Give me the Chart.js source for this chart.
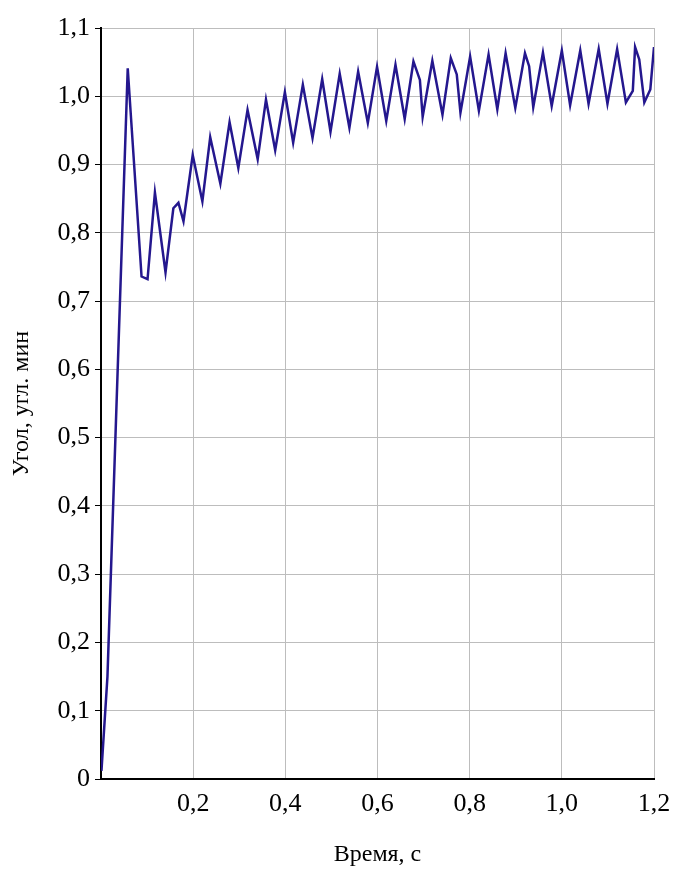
<!DOCTYPE html>
<html>
<head>
<meta charset="utf-8">
<script src="https://cdn.jsdelivr.net/npm/chart.js@4/dist/chart.umd.min.js"></script>
<style>
    html, body { margin: 0; padding: 0; background: #fff; }
    #wrap { width: 673px; height: 870px; }
</style>
</head>
<body>
<div id="wrap"><canvas id="angle"></canvas></div>
<script>
// time, s
const timeS = [
    0.001, 0.014, 0.058, 0.088, 0.101, 0.117, 0.140, 0.157, 0.168, 0.179,
    0.199, 0.220, 0.237, 0.259, 0.279, 0.298, 0.318, 0.340, 0.358, 0.378,
    0.399, 0.417, 0.438, 0.459, 0.480, 0.498, 0.518, 0.539, 0.558, 0.579,
    0.599, 0.619, 0.639, 0.659, 0.678, 0.692, 0.698, 0.719, 0.741, 0.759,
    0.772, 0.780, 0.801, 0.820, 0.841, 0.860, 0.878, 0.899, 0.920, 0.929,
    0.938, 0.959, 0.978, 1.000, 1.018, 1.040, 1.058, 1.080, 1.099, 1.120,
    1.139, 1.154, 1.159, 1.168, 1.179, 1.192, 1.200
];
// angle, arc min
const angleMin = [
    0.012, 0.150, 1.041, 0.736, 0.732, 0.859, 0.742, 0.836, 0.844, 0.817,
    0.914, 0.846, 0.940, 0.872, 0.962, 0.895, 0.980, 0.908, 0.995, 0.921,
    1.006, 0.932, 1.017, 0.939, 1.025, 0.948, 1.033, 0.954, 1.036, 0.961,
    1.043, 0.964, 1.046, 0.967, 1.051, 1.024, 0.970, 1.052, 0.973, 1.056,
    1.032, 0.976, 1.058, 0.979, 1.061, 0.981, 1.063, 0.983, 1.063, 1.044,
    0.984, 1.064, 0.986, 1.067, 0.987, 1.067, 0.989, 1.069, 0.989, 1.069,
    0.991, 1.008, 1.072, 1.054, 0.991, 1.010, 1.072
];

const xTickLabels = ['', '0,2', '0,4', '0,6', '0,8', '1,0', '1,2'];
const yTickLabels = ['0', '0,1', '0,2', '0,3', '0,4', '0,5', '0,6', '0,7', '0,8', '0,9', '1,0', '1,1'];

window.onload = () => {
    let points = [];
    for (let i = 0; i < timeS.length; i++) {
        points.push({ x: timeS[i], y: angleMin[i] });
    }

    const tickFont = { family: '"Liberation Serif", "Times New Roman", serif', size: 26 };
    const titleFont = { family: '"Liberation Serif", "Times New Roman", serif', size: 24, lineHeight: 1 };

    const config = {
        type: 'scatter',
        data: {
            datasets: [{
                data: points,
                showLine: true,
                borderColor: '#24178e',
                borderWidth: 2.5,
                pointRadius: 0,
                tension: 0,
                fill: false
            }]
        },
        options: {
            animation: false,
            responsive: true,
            maintainAspectRatio: false,
            layout: {
                padding: { left: 6, right: 19, top: 28, bottom: 0 }
            },
            plugins: {
                legend: { display: false },
                tooltip: { enabled: false }
            },
            scales: {
                x: {
                    type: 'linear',
                    min: 0,
                    max: 1.2,
                    afterFit: (scale) => {
                        // the last label may run into the margin, like in the original
                        scale.height = 91;
                        scale.paddingLeft = 0;
                        scale.paddingRight = 0;
                    },
                    ticks: {
                        stepSize: 0.2,
                        padding: 10,
                        color: '#000',
                        font: tickFont,
                        maxRotation: 0,
                        callback: (v, i) => xTickLabels[Math.round(v / 0.2)]
                    },
                    grid: {
                        color: '#bdbdbd',
                        lineWidth: 1,
                        drawTicks: false
                    },
                    border: { color: '#000', width: 2 },
                    title: {
                        display: true,
                        text: 'Время, с',
                        color: '#000',
                        font: titleFont,
                        padding: { top: 4, bottom: 3 }
                    }
                },
                y: {
                    min: 0,
                    max: 1.1,
                    afterFit: (scale) => { scale.width = 95; },
                    ticks: {
                        stepSize: 0.1,
                        padding: 5,
                        color: '#000',
                        font: tickFont,
                        callback: (v) => yTickLabels[Math.round(v * 10)]
                    },
                    grid: {
                        color: '#bdbdbd',
                        lineWidth: 1,
                        tickLength: 6,
                        tickColor: '#000'
                    },
                    border: { color: '#000', width: 2 },
                    title: {
                        display: true,
                        text: 'Угол, угл. мин',
                        color: '#000',
                        font: titleFont,
                        padding: { top: 4, bottom: 4 }
                    }
                }
            }
        }
    };

    const myChart = new Chart(document.getElementById('angle'), config);
};
</script>
</body>
</html>
